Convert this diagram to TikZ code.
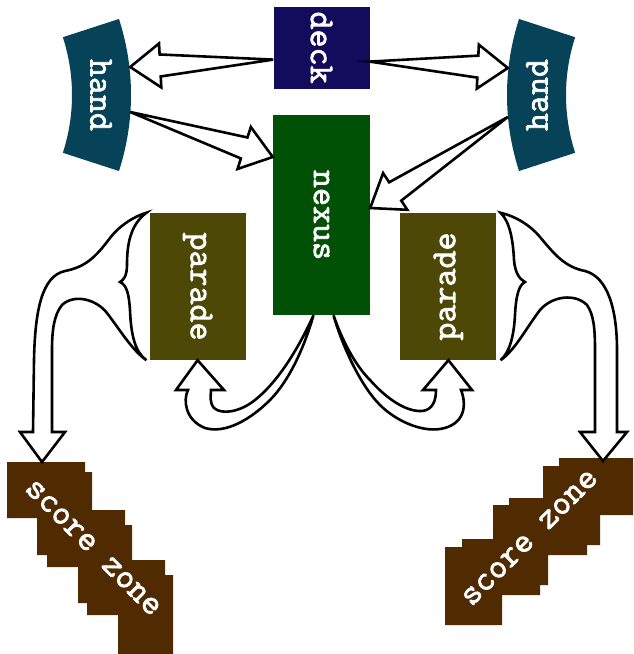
\documentclass[tikz,border=0pt]{standalone}
\usepackage{fontspec}
\setmonofont{Latin Modern Mono}[FakeBold=2.2]
\usepackage{tikz}
\usetikzlibrary{positioning,calc}
\definecolor{deckblue}{RGB}{19, 12, 92}
\definecolor{handteal}{RGB}{6, 66, 88}
\definecolor{nexusgreen}{RGB}{0, 80, 5}
\definecolor{paradeolive}{RGB}{77, 72, 5}
\definecolor{scorebrown}{RGB}{80, 42, 0}
\tikzstyle{zone} = [rectangle, draw=none, inner sep=0pt, text=white, font=\ttfamily\fontsize{35}{35}\selectfont]
\tikzstyle{textonly} = [draw=none, fill=none, inner sep=0pt, text=white, font=\ttfamily\fontsize{35}{35}\selectfont]
\tikzstyle{fedge} = [draw=black, fill=white, line width=2.6pt]
\newcommand{\fatarrow}[2]{%
  \coordinate (fa-b) at ($(#2)!30pt!(#1)$);
  \path[fedge] (#1) -- ($(fa-b)!11pt!90:(#1)$) -- ($(fa-b)!22pt!90:(#1)$) -- (#2)
    -- ($(fa-b)!22pt!-90:(#1)$) -- ($(fa-b)!11pt!-90:(#1)$) -- cycle;
}

\begin{document}
\begin{tikzpicture}[x=1pt, y=1pt]
\useasboundingbox (0,0) rectangle (633,-654);

% zones =============================

% nexus and deck
\node[zone, fill=nexusgreen, minimum width=97pt, minimum height=200pt] (nexus) at (321.5,-215) {\rotatebox{-90}{nexus}};
\node[zone, fill=deckblue, minimum width=96pt, minimum height=82pt, above=26pt of nexus] (deck) {\rotatebox{-90}{deck}};

% parades
\node[zone, fill=paradeolive, minimum width=96pt, minimum height=147pt, below left=98pt and 27pt of nexus.north west] (paradeL) {\rotatebox{-90}{parade}};
\node[zone, fill=paradeolive, minimum width=96pt, minimum height=147pt, below right=98pt and 30pt of nexus.north east] (paradeR) {\rotatebox{90}{parade}};

% hands
\coordinate (hcL) at (-115,-95);
\coordinate (hcR) at (753,-95);
\fill[handteal] ([shift={(-18:187)}]hcL) arc[start angle=-18, end angle=18, radius=187]
  -- ([shift={(18:246)}]hcL) arc[start angle=18, end angle=-18, radius=246] -- cycle;
\fill[handteal] ([shift={(162:187)}]hcR) arc[start angle=162, end angle=198, radius=187]
  -- ([shift={(198:246)}]hcR) arc[start angle=198, end angle=162, radius=246] -- cycle;
\node[zone, minimum width=58pt, minimum height=130pt] (handL) at ([xshift=216pt]hcL) {\rotatebox{-90}{hand}};
\node[zone, minimum width=58pt, minimum height=130pt] (handR) at ([xshift=-216pt]hcR) {\rotatebox{90}{hand}};

% score zones
\fill[scorebrown] (7,-462) -- (85,-462) -- (85,-472) -- (92,-472) -- (92,-510) -- (125,-510)
  -- (125,-525) -- (132,-525) -- (132,-560) -- (165,-560) -- (165,-575) -- (173,-575)
  -- (173,-654) -- (118,-654) -- (118,-615) -- (87,-615) -- (87,-603) -- (78,-603)
  -- (78,-567) -- (47,-567) -- (47,-555) -- (37,-555) -- (37,-518) -- (7,-518) -- cycle;
\fill[scorebrown] (559,-458) -- (633,-458) -- (633,-515) -- (600,-515) -- (600,-545) -- (587,-545)
  -- (587,-555) -- (548,-555) -- (548,-585) -- (540,-585) -- (540,-595) -- (502,-595)
  -- (502,-625) -- (445,-625) -- (445,-547) -- (462,-547) -- (462,-539) -- (493,-539)
  -- (493,-505) -- (509,-505) -- (509,-498) -- (543,-498) -- (543,-466) -- (559,-466) -- cycle;
\node[textonly, rotate=-45] (scoreL) at (93,-548) {score zone};
\node[textonly, rotate=45] (scoreR) at (530,-538) {score zone};

% edges ==============================

\coordinate (deckL) at ([yshift=-12pt]deck.west);
\coordinate (deckR) at ([yshift=-14pt]deck.east);
\coordinate (handLin) at ([yshift=28pt]handL.east);
\coordinate (handRin) at ([yshift=27pt]handR.west);
\coordinate (handLout) at ([yshift=-17pt]handL.east);
\coordinate (handRout) at ([yshift=-22pt]handR.west);
\coordinate (nexusL) at ([yshift=58pt]nexus.west);
\coordinate (nexusR) at ([yshift=7pt]nexus.east);

% deck to hands, hands to nexus
\fatarrow{deckL}{handLin}
\fatarrow{deckR}{handRin}
\fatarrow{handLout}{nexusL}
\fatarrow{handRout}{nexusR}

% nexus to parades
\coordinate (nexusBL) at ([xshift=-8pt]nexus.south);
\coordinate (nexusBR) at ([xshift=12pt]nexus.south);
\path[fedge] (nexusBL) .. controls (300,-345) and (280,-380) .. (255,-400)
  .. controls (240,-412) and (222,-415) .. (214,-408) .. controls (209,-402) and (211,-395) .. (211,-390)
  -- (224,-390) -- (paradeL.south) -- (176,-390) -- (188,-390)
  .. controls (183,-400) and (185,-420) .. (205,-428) .. controls (225,-434) and (250,-420) .. (270,-400)
  .. controls (290,-380) and (305,-345) .. (nexusBL) -- cycle;
\path[fedge] (nexusBR) .. controls (342,-340) and (355,-365) .. (370,-380)
  .. controls (385,-397) and (405,-412) .. (422,-411) .. controls (433,-410) and (436,-400) .. (436,-390)
  -- (423,-390) -- (paradeR.south) -- (472,-390) -- (461,-390)
  .. controls (467,-405) and (465,-425) .. (440,-429) .. controls (420,-432) and (395,-420) .. (380,-405)
  .. controls (360,-385) and (342,-345) .. (nexusBR) -- cycle;

% parades to score zones
\coordinate (paradeLtop) at ([xshift=-3pt]paradeL.north west);
\coordinate (paradeLbot) at ([xshift=-3pt]paradeL.south west);
\coordinate (scoreLin) at (42,-462);
\coordinate (paradeRtop) at ([xshift=4pt]paradeR.north east);
\coordinate (paradeRbot) at ([xshift=4pt]paradeR.south east);
\coordinate (scoreRin) at (603,-461);
\path[fedge] (paradeLtop) .. controls (130,-225) and (127,-245) .. (127,-265)
  .. controls (127,-275) and (124,-280) .. (120,-282) .. controls (127,-285) and (129,-295) .. (130,-310)
  .. controls (131,-335) and (135,-352) .. (paradeLbot)
  .. controls (132,-350) and (120,-330) .. (107,-313) .. controls (97,-300) and (75,-293) .. (62,-305)
  .. controls (54,-315) and (52,-330) .. (52,-350) -- (52,-432)
  -- (65,-432) -- (scoreLin) -- (20,-432) -- (33,-432) -- (34,-360)
  .. controls (35,-310) and (42,-276) .. (65,-271) .. controls (85,-267) and (95,-258) .. (110,-238)
  .. controls (120,-225) and (135,-216) .. (paradeLtop) -- cycle;
\path[fedge] (paradeRtop) .. controls (510,-222) and (513,-240) .. (514,-260)
  .. controls (515,-272) and (519,-279) .. (525,-282) .. controls (519,-285) and (516,-295) .. (515,-315)
  .. controls (514,-335) and (510,-352) .. (paradeRbot)
  .. controls (515,-350) and (525,-330) .. (540,-310) .. controls (552,-296) and (575,-293) .. (587,-305)
  .. controls (594,-315) and (595,-330) .. (595,-350) -- (595,-432)
  -- (580,-432) -- (scoreRin) -- (627,-432) -- (617,-432) -- (617,-350)
  .. controls (617,-310) and (608,-277) .. (585,-271) .. controls (565,-267) and (555,-255) .. (540,-237)
  .. controls (530,-225) and (515,-216) .. (paradeRtop) -- cycle;

\end{tikzpicture}
\end{document}
